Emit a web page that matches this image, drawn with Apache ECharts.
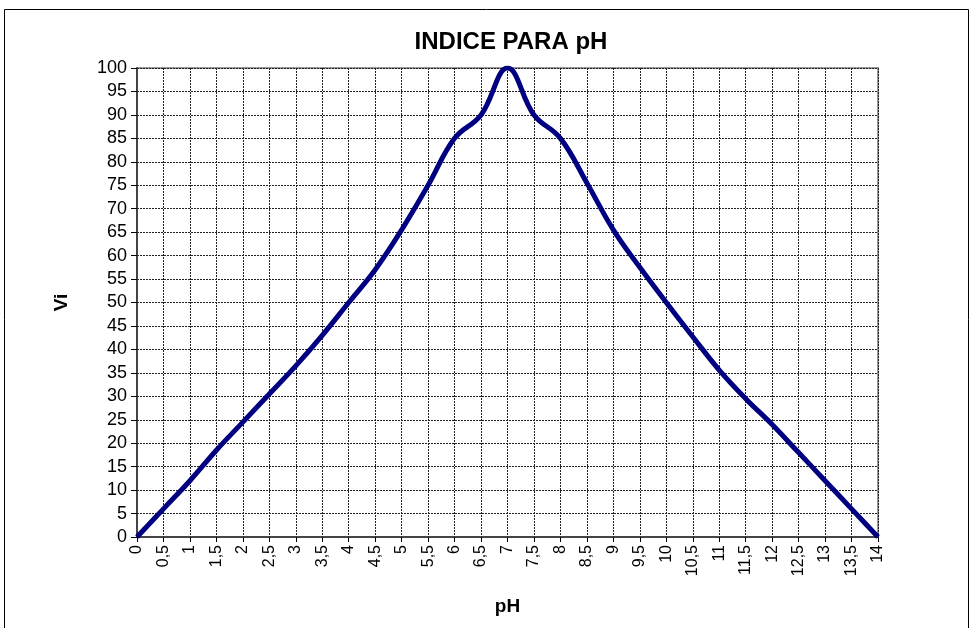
<!DOCTYPE html>
<html>
<head>
<meta charset="utf-8">
<script src="https://cdn.jsdelivr.net/npm/echarts@6/dist/echarts.min.js"></script>
<style>
  html, body { margin: 0; padding: 0; background: #fff; }
  #chart { width: 974px; height: 628px; }
</style>
</head>
<body>
<div id="chart"></div>
<script>
// pH categories (labels use comma decimals like the original)
const phLabels = ['0', '0,5', '1', '1,5', '2', '2,5', '3', '3,5', '4', '4,5', '5', '5,5', '6', '6,5', '7',
  '7,5', '8', '8,5', '9', '9,5', '10', '10,5', '11', '11,5', '12', '12,5', '13', '13,5', '14']
// Vi
const viValues = [0, 6, 12, 18.5, 24.5, 30.5, 36.5, 43, 50, 57, 65.5, 75, 85, 90, 100,
  90, 85, 75.5, 65.5, 57.5, 50, 42.7, 35.6, 29.5, 24, 18, 12, 6, 0]

const font = 'Liberation Sans, Arial, sans-serif'
const chart = echarts.init(document.getElementById('chart'))

chart.setOption({
  animation: false,
  title: {
    text: 'INDICE PARA pH',
    top: 25,
    left: 506,
    textAlign: 'center',
    textStyle: { fontFamily: font, fontSize: 24, fontWeight: 'bold', color: '#000' }
  },
  graphic: [{
    type: 'rect',
    shape: { x: 4.5, y: 9.5, width: 964, height: 640 },
    style: { fill: 'none', stroke: '#000', lineWidth: 1 },
    z: -1
  }],
  grid: {
    left: 137,
    right: 96,
    top: 68,
    bottom: 91,
    show: true,
    borderColor: '#999',
    borderWidth: 2
  },
  xAxis: {
    type: 'category',
    data: phLabels,
    boundaryGap: false,
    name: 'pH',
    nameLocation: 'middle',
    nameGap: 60,
    nameTextStyle: { fontFamily: font, fontSize: 19, fontWeight: 'bold', color: '#000' },
    axisLine: { lineStyle: { color: '#444', width: 2 } },
    axisTick: { length: 5, lineStyle: { color: '#000' } },
    axisLabel: { rotate: 90, fontFamily: font, fontSize: 16, color: '#000', margin: 8, interval: 0 },
    splitLine: { show: true, interval: 0, lineStyle: { color: '#222', type: [2, 1], width: 1 } }
  },
  yAxis: {
    type: 'value',
    min: 0,
    max: 100,
    interval: 5,
    name: 'Vi',
    nameLocation: 'middle',
    nameGap: 66,
    nameRotate: 90,
    nameTextStyle: { fontFamily: font, fontSize: 19, fontWeight: 'bold', color: '#000' },
    axisLine: { show: true, lineStyle: { color: '#444', width: 2 } },
    axisTick: { show: true, length: 6, lineStyle: { color: '#000' } },
    axisLabel: { fontFamily: font, fontSize: 18, color: '#000', margin: 10 },
    splitLine: { lineStyle: { color: '#222', type: [2, 1], width: 1 } }
  },
  series: [{
    type: 'line',
    data: viValues,
    smooth: 0.4,
    symbol: 'none',
    lineStyle: { color: '#000080', width: 5 }
  }]
})
</script>
</body>
</html>
